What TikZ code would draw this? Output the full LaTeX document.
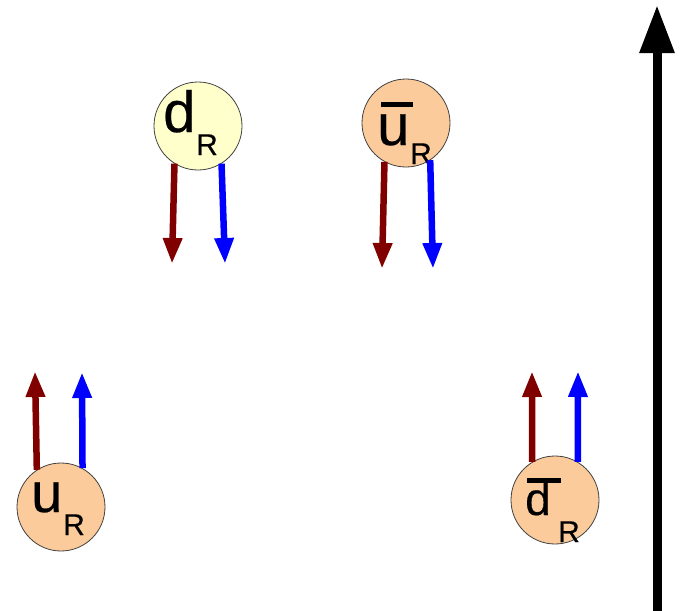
\documentclass[tikz,border=0pt]{standalone}
\usepackage{fontspec}
\setmainfont{Liberation Sans}[FakeBold=0.4]
\usetikzlibrary{arrows.meta}
\definecolor{quarkorange}{HTML}{FBCB9B}
\definecolor{quarkyellow}{HTML}{FFFFCC}
\definecolor{spinred}{HTML}{800000}
\definecolor{spinblue}{HTML}{0000FF}
\newcommand\lettersize[2]{{\fontsize{#1}{#1}\selectfont #2}}
\newcommand\smallletter[1]{{\fontsize{30}{30}\selectfont #1}}
\tikzset{
  quark/.style={circle, draw=black!75, line width=0.8pt, minimum size=88pt, inner sep=0pt},
  lbl/.style={anchor=base west, inner sep=0pt},
  spinarrow/.style={line width=6.5pt, -{Triangle[width=18pt,length=26pt]}},
  axisarrow/.style={line width=9pt, -{Triangle[width=33pt,length=48pt]}}
}
\begin{document}
\begin{tikzpicture}[x=1pt,y=1pt]
\useasboundingbox (0,0) rectangle (681,-611);
% circles
\node[quark, fill=quarkyellow] (dR) at (198,-126) {};
\node[quark, fill=quarkorange] (ubR) at (406,-123) {};
\node[quark, fill=quarkorange] (uR) at (61,-507) {};
\node[quark, fill=quarkorange] (dbR) at (555,-500) {};
% labels
\node[lbl] (dRd) at (163,-132) {\lettersize{58}{d}};
\node[lbl] (dRR) at (196,-155) {\smallletter{R}};
\node[lbl] (ubRu) at (377,-145) {\lettersize{58}{\rlap{\kern4pt\rule[38pt]{32pt}{5pt}}u}};
\node[lbl] (ubRR) at (410,-164) {\smallletter{R}};
\node[lbl] (uRu) at (31,-512) {\lettersize{56}{u}};
\node[lbl] (uRR) at (63,-535) {\smallletter{R}};
\node[lbl] (dbRd) at (525,-515) {\lettersize{46}{\rlap{\kern2pt\rule[32pt]{34pt}{5pt}}d}};
\node[lbl] (dbRR) at (558,-542) {\smallletter{R}};
% arrow ends
\coordinate (dRa) at (172,-264);
\coordinate (dRb) at (225,-264);
\coordinate (ubRa) at (382,-269);
\coordinate (ubRb) at (433,-269);
\coordinate (uRa) at (35,-371);
\coordinate (uRb) at (82,-372);
\coordinate (dbRa) at (532,-371);
\coordinate (dbRb) at (578,-371);
\coordinate (axbot) at (657,-611);
\coordinate (axtop) at (657,-5);
% spin arrows
\draw[spinarrow, spinred] (dR.238) -- (dRa);
\draw[spinarrow, spinblue] (dR.302) -- (dRb);
\draw[spinarrow, spinred] (ubR.241) -- (ubRa);
\draw[spinarrow, spinblue] (ubR.303) -- (ubRb);
\draw[spinarrow, spinred] (uR.123) -- (uRa);
\draw[spinarrow, spinblue] (uR.61) -- (uRb);
\draw[spinarrow, spinred] (dbR.121) -- (dbRa);
\draw[spinarrow, spinblue] (dbR.59) -- (dbRb);
% axis
\draw[axisarrow, black] (axbot) -- (axtop);
\end{tikzpicture}
\end{document}
